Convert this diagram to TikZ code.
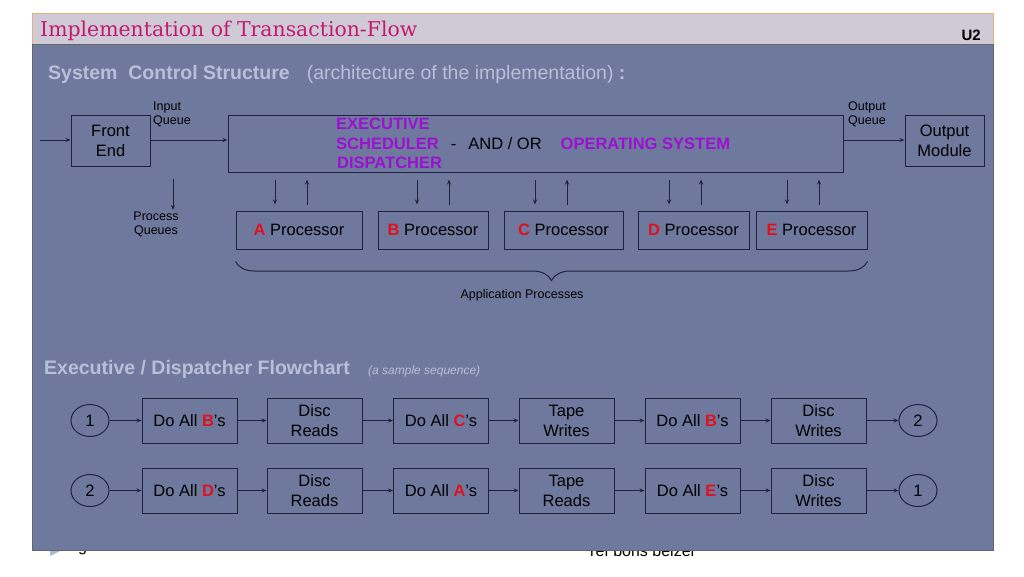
\documentclass[tikz,border=0pt]{standalone}
\usepackage{fontspec}
\setmainfont{Liberation Sans}
\newfontfamily\titlefont{DejaVu Serif}
\usetikzlibrary{arrows.meta,shapes.geometric,decorations.pathreplacing}

\definecolor{panelblue}{HTML}{6F799E}
\definecolor{bandgray}{HTML}{D0C9D6}
\definecolor{bandedge}{HTML}{E2B27E}
\definecolor{titlemag}{HTML}{C21A72}
\definecolor{execpurple}{HTML}{9C10D2}
\definecolor{letterred}{HTML}{E0101E}
\definecolor{headgray}{HTML}{B8C0D8}
\definecolor{linenavy}{HTML}{1E2440}
\definecolor{bulletblue}{HTML}{A8B8D8}

\newcommand{\redltr}[1]{\textcolor{letterred}{\textbf{#1}}}
\newcommand{\purpl}[1]{\textcolor{execpurple}{\textbf{#1}}}

\tikzset{
  box/.style={draw=linenavy, line width=1pt, inner sep=0pt, align=center,
    font=\fontsize{16.5}{20}\selectfont},
  flowbox/.style={box, minimum width=95pt, minimum height=45pt},
  procbox/.style={box, minimum height=38pt},
  endoval/.style={ellipse, draw=linenavy, line width=1pt, inner sep=0pt,
    minimum width=38pt, minimum height=32pt, font=\fontsize{16.5}{20}\selectfont},
  arr/.style={-{Stealth[length=5pt,width=4pt]}, draw=linenavy, line width=1pt},
  lbl/.style={inner sep=0pt, align=left, font=\fontsize{12.5}{13.5}\selectfont},
  heading/.style={inner sep=0pt, anchor=base west, text=headgray,
    font=\fontsize{19.5}{22}\selectfont},
  exectext/.style={inner sep=0pt, anchor=west, font=\fontsize{16.5}{20}\selectfont}
}

\begin{document}
\begin{tikzpicture}[x=1pt,y=-1pt]
\useasboundingbox (0,0) rectangle (1024,576);

% footer, mostly behind the panel
\fill[bulletblue] (50,542) -- (64,549) -- (50,556) -- cycle;
\node[anchor=base west, inner sep=0pt, font=\fontsize{16}{18}\selectfont] (pgmark) at (78,551) {g};
\node[anchor=base west, inner sep=0pt, font=\fontsize{16}{18}\selectfont] (refline) at (590,556) {ref boris beizer};

% slide panel and title band
\fill[panelblue] (32,44) rectangle (993,550);
\draw[black!60, line width=0.8pt] (32,44) rectangle (993,550);
\fill[bandgray] (32,13) rectangle (993,44);
\draw[bandedge, line width=0.8pt] (32,44) -- (32,13) -- (993,13) -- (993,44);
\draw[black!60, line width=0.8pt] (32,44) -- (993,44);

\node[anchor=base west, inner sep=0pt, text=titlemag,
  font=\titlefont\fontsize{20.4}{24}\selectfont] (title) at (40,36) {Implementation of Transaction-Flow};
\node[anchor=base east, inner sep=0pt, font=\bfseries\fontsize{15}{18}\selectfont] (unit) at (981,40) {U2};

\node[heading] (head1) at (48,79.5)
  {\textbf{System\ \ Control Structure}\hspace{17pt}(architecture of the implementation)\textbf{\ :}};
\node[heading] (head2) at (44,374) {\textbf{Executive / Dispatcher Flowchart}};
\node[heading, font=\itshape\fontsize{12}{14}\selectfont] (head2b) at (368,374) {(a sample sequence)};

% system control structure
\node[box, minimum width=79pt, minimum height=51pt] (fe) at (110.5,140.5) {Front\\End};
\node[box, minimum width=615pt, minimum height=57pt] (exec) at (535.5,143.5) {};
\node[box, minimum width=79pt, minimum height=51pt] (om) at (944.5,140.5) {Output\\Module};

\node[exectext] (ex1) at (336,124) {\purpl{EXECUTIVE}};
\node[exectext] (ex2) at (336,144)
  {\purpl{SCHEDULER}\hspace{12pt}-\hspace{12pt}AND / OR\hspace{19pt}\purpl{OPERATING SYSTEM}};
\node[exectext] (ex3) at (337,163) {\purpl{DISPATCHER}};

\node[lbl, anchor=north west] (inq) at (153,102) {Input\\Queue};
\node[lbl, anchor=north west] (outq) at (848,102) {Output\\Queue};

\coordinate (in) at (40,140);
\draw[arr] (in) -- (in -| fe.west);
\draw[arr] (fe.east |- in) -- (exec.west |- in);
\draw[arr] (exec.east |- in) -- (om.west |- in);

\node[lbl, align=center, anchor=north] (pq) at (156,212) {Process\\Queues};
\coordinate (pqtop) at (173,179);
\draw[arr, shorten >=2pt] (pqtop) -- (pqtop |- pq.north);

\node[procbox, minimum width=126pt] (pA) at (299,230) {\redltr{A} Processor};
\node[procbox, minimum width=110pt] (pB) at (433,230) {\redltr{B} Processor};
\node[procbox, minimum width=119pt] (pC) at (563.5,230) {\redltr{C} Processor};
\node[procbox, minimum width=111pt] (pD) at (693.5,230) {\redltr{D} Processor};
\node[procbox, minimum width=111pt] (pE) at (811.5,230) {\redltr{E} Processor};

\foreach \p/\dx/\ux in {pA/-24/8, pB/-16/16, pC/-28.5/3.5, pD/-24.5/7.5, pE/-24.5/7.5}{
  \draw[arr, shorten <=7pt, shorten >=6pt] ([xshift=\dx pt]\p.north |- exec.south) -- ([xshift=\dx pt]\p.north);
  \draw[arr, shorten <=6pt, shorten >=7pt] ([xshift=\ux pt]\p.north) -- ([xshift=\ux pt]\p.north |- exec.south);
}

\draw[decorate, decoration={brace, mirror, amplitude=19pt}, draw=linenavy, line width=1pt]
  ([yshift=-12pt]pA.south west) -- ([yshift=-12pt]pE.south east);
\node[lbl, anchor=north] (app) at (522,289) {Application Processes};

% flowchart, first sequence
\node[endoval] (s1) at (90,420.5) {1};
\node[flowbox] (r1a) at (189.5,420.5) {Do All \redltr{B}'s};
\node[flowbox] (r1b) at (314.5,420.5) {Disc\\Reads};
\node[flowbox] (r1c) at (441,420.5) {Do All \redltr{C}'s};
\node[flowbox] (r1d) at (566.5,420.5) {Tape\\Writes};
\node[flowbox] (r1e) at (692.5,420.5) {Do All \redltr{B}'s};
\node[flowbox] (r1f) at (818.5,420.5) {Disc\\Writes};
\node[endoval] (t1) at (918,420.5) {2};

% flowchart, second sequence
\node[endoval] (s2) at (90,490.5) {2};
\node[flowbox] (r2a) at (189.5,490.5) {Do All \redltr{D}'s};
\node[flowbox] (r2b) at (314.5,490.5) {Disc\\Reads};
\node[flowbox] (r2c) at (441,490.5) {Do All \redltr{A}'s};
\node[flowbox] (r2d) at (566.5,490.5) {Tape\\Reads};
\node[flowbox] (r2e) at (692.5,490.5) {Do All \redltr{E}'s};
\node[flowbox] (r2f) at (818.5,490.5) {Disc\\Writes};
\node[endoval] (t2) at (918,490.5) {1};

\foreach \r in {1,2}{
  \draw[arr] (s\r) -- (r\r a);
  \foreach \a/\b in {a/b, b/c, c/d, d/e, e/f}
    \draw[arr] (r\r\a) -- (r\r\b);
  \draw[arr] (r\r f) -- (t\r);
}
\end{tikzpicture}
\end{document}
